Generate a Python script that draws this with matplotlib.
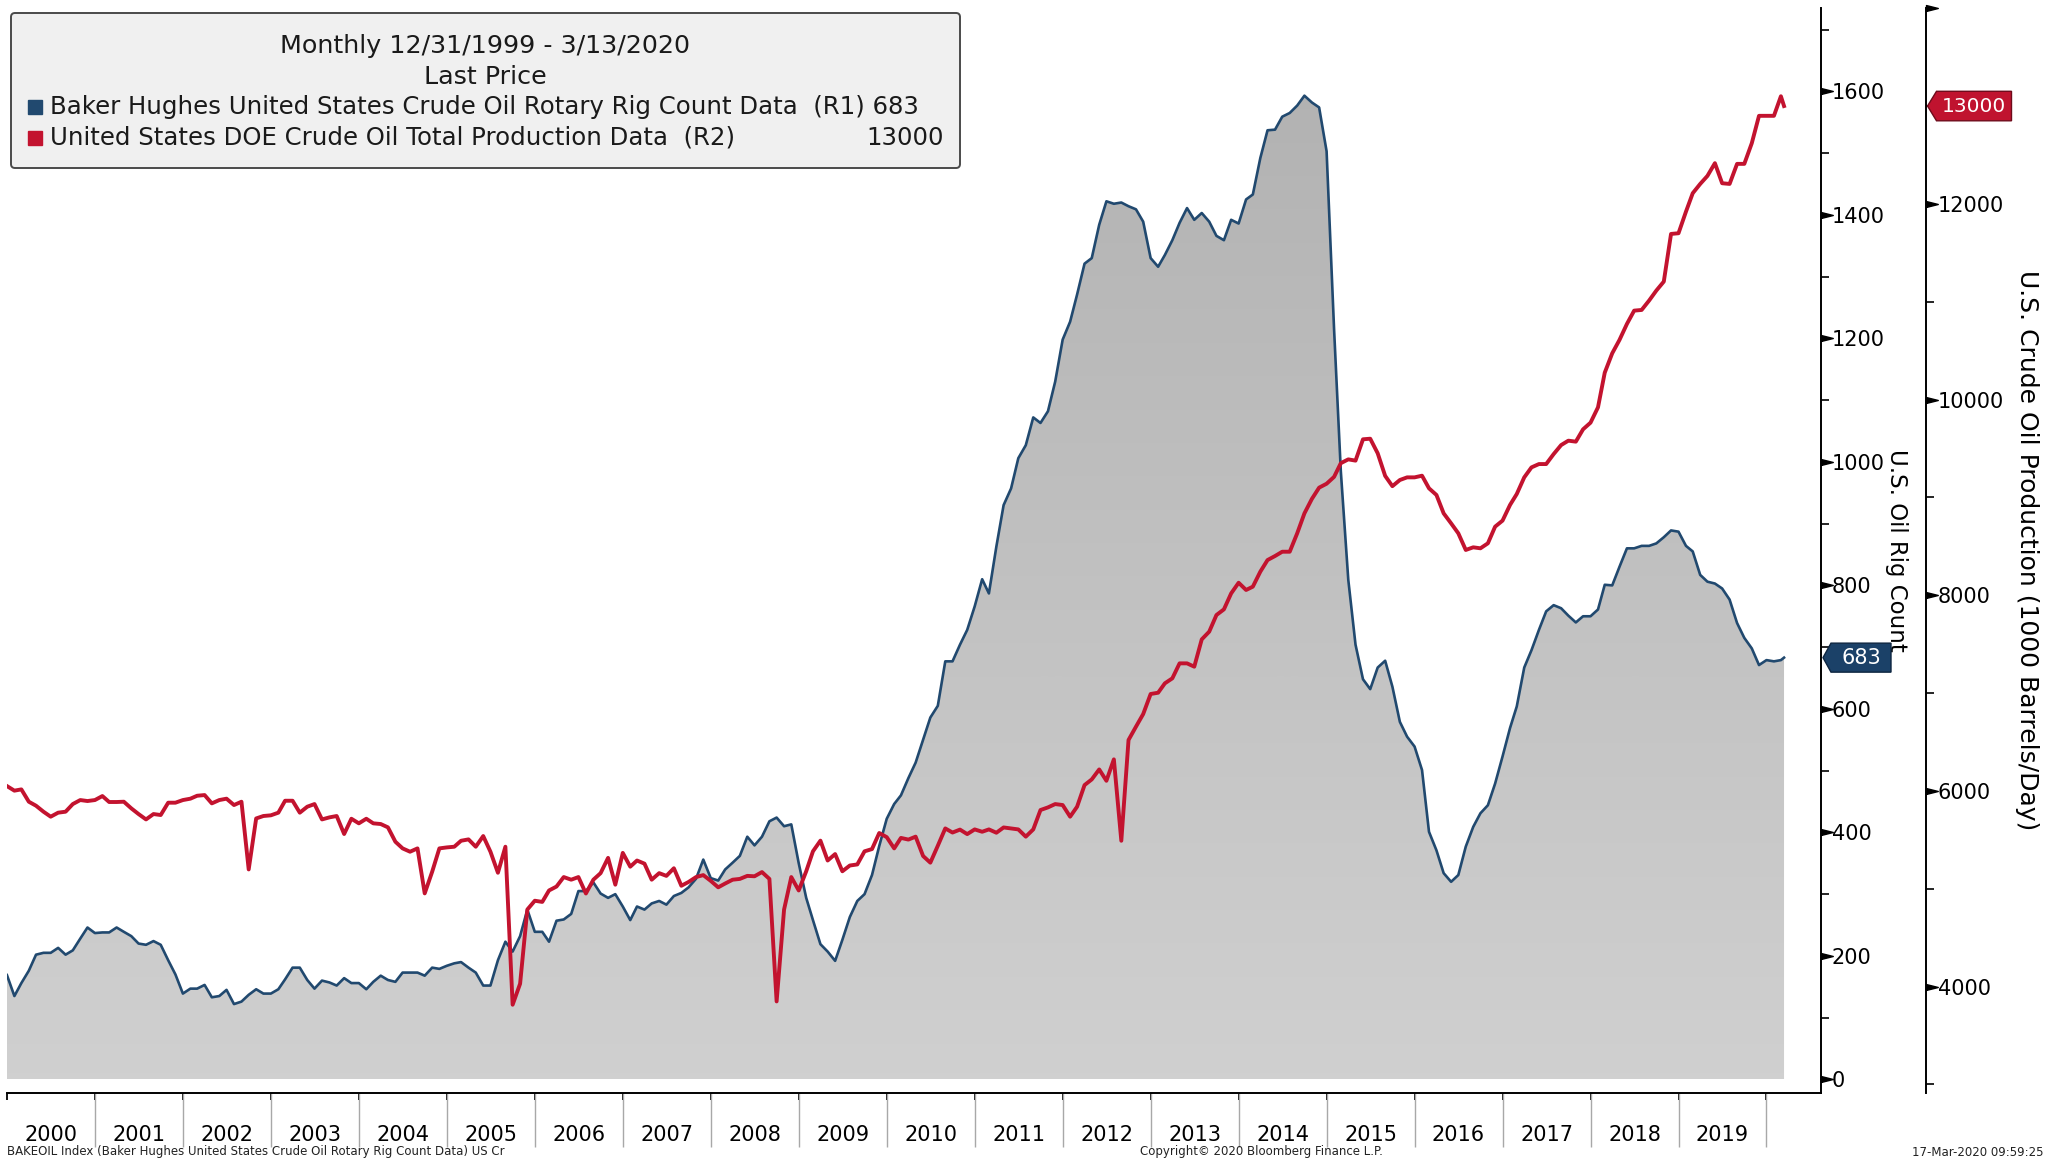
import numpy as np
import pandas as pd
import matplotlib
matplotlib.use('Agg')
import matplotlib.pyplot as plt
import matplotlib.transforms as mtransforms
from matplotlib.colors import LinearSegmentedColormap
from matplotlib.patches import Polygon, FancyBboxPatch
from matplotlib.lines import Line2D
from matplotlib.ticker import MultipleLocator, FixedLocator, NullFormatter

plt.rcParams['font.family'] = 'DejaVu Sans'

# Monthly values, Dec 1999 .. Feb 2020 plus last print 3/13/2020
rig_count = [
    169,
    135, 156, 176, 202, 205, 205, 213, 202, 209, 228, 246, 237,   # 2000
    238, 238, 246, 239, 232, 220, 218, 224, 218, 193, 170, 139,   # 2001
    147, 147, 153, 133, 135, 145, 122, 126, 137, 146, 139, 139,   # 2002
    146, 162, 181, 181, 161, 147, 160, 157, 152, 164, 156, 156,   # 2003
    146, 158, 168, 161, 158, 173, 173, 173, 168, 181, 179, 184,   # 2004
    188, 190, 181, 173, 152, 152, 193, 223, 207, 232, 275, 239,   # 2005
    239, 223, 257, 259, 268, 305, 305, 319, 301, 294, 300, 280,   # 2006
    258, 280, 275, 285, 289, 283, 297, 302, 311, 325, 356, 326,   # 2007
    322, 340, 351, 362, 393, 379, 393, 418, 424, 410, 413, 350,   # 2008
    294, 258, 219, 207, 192, 226, 263, 289, 300, 331, 378, 422,   # 2009
    446, 460, 488, 513, 550, 586, 605, 677, 677, 704, 728, 766,   # 2010
    810, 787, 863, 930, 957, 1006, 1027, 1072, 1063, 1082, 1130, 1198,   # 2011
    1227, 1271, 1321, 1330, 1384, 1422, 1418, 1420, 1414, 1409, 1389, 1330,  # 2012
    1316, 1335, 1359, 1387, 1411, 1392, 1403, 1389, 1366, 1359, 1392, 1386,  # 2013
    1425, 1433, 1492, 1537, 1538, 1559, 1565, 1577, 1593, 1582, 1574, 1503,  # 2014
    1215, 985, 809, 704, 648, 632, 667, 678, 636, 579, 555, 539,   # 2015
    501, 401, 371, 334, 320, 331, 377, 409, 431, 444, 479, 523,    # 2016
    569, 604, 667, 695, 728, 758, 768, 763, 751, 740, 750, 750,    # 2017
    761, 801, 800, 830, 860, 860, 864, 864, 868, 878, 889, 887,    # 2018
    864, 855, 817, 806, 803, 795, 777, 739, 715, 698, 671, 679,    # 2019
    677, 679, 683,                                                 # 2020
]

oil_production = [
    6050,
    6003, 6016, 5890, 5849, 5788, 5737, 5778, 5788, 5866, 5907, 5897, 5907,   # 2000
    5948, 5887, 5887, 5890, 5822, 5764, 5709, 5764, 5754, 5880, 5880, 5907,   # 2001
    5921, 5951, 5958, 5873, 5907, 5921, 5856, 5890, 5198, 5719, 5744, 5751,   # 2002
    5778, 5900, 5900, 5778, 5839, 5866, 5709, 5730, 5744, 5560, 5716, 5669,   # 2003
    5716, 5669, 5662, 5628, 5481, 5413, 5379, 5413, 4953, 5174, 5413, 5423,   # 2004
    5430, 5491, 5505, 5430, 5539, 5379, 5164, 5430, 3815, 4030, 4788, 4878,   # 2005
    4866, 4983, 5023, 5120, 5093, 5120, 4952, 5093, 5160, 5316, 5042, 5367,   # 2006
    5226, 5289, 5257, 5093, 5160, 5132, 5210, 5031, 5070, 5120, 5140, 5081,   # 2007
    5015, 5054, 5093, 5101, 5132, 5128, 5171, 5101, 3849, 4788, 5120, 4983,   # 2008
    5179, 5383, 5492, 5289, 5355, 5179, 5238, 5249, 5383, 5406, 5570, 5528,   # 2009
    5413, 5520, 5503, 5533, 5335, 5267, 5440, 5617, 5575, 5605, 5559, 5607,   # 2010
    5583, 5607, 5573, 5627, 5617, 5607, 5533, 5607, 5805, 5832, 5866, 5856,   # 2011
    5737, 5839, 6060, 6118, 6220, 6104, 6323, 5491, 6521, 6657, 6786, 6991,   # 2012
    7004, 7100, 7151, 7304, 7304, 7270, 7549, 7628, 7798, 7856, 8019, 8128,   # 2013
    8054, 8088, 8241, 8360, 8401, 8445, 8445, 8633, 8837, 8985, 9100, 9140,   # 2014
    9210, 9350, 9389, 9376, 9594, 9600, 9451, 9220, 9115, 9178, 9205, 9205,   # 2015
    9222, 9093, 9025, 8837, 8735, 8633, 8463, 8490, 8480, 8531, 8701, 8763,   # 2016
    8923, 9035, 9205, 9307, 9341, 9341, 9443, 9535, 9580, 9570, 9696, 9764,   # 2017
    9921, 10275, 10473, 10609, 10773, 10909, 10916, 11012, 11114, 11206, 11693, 11700,  # 2018
    11921, 12109, 12204, 12286, 12416, 12211, 12204, 12409, 12409, 12620, 12900, 12900,  # 2019
    12900, 13100, 13000,                                                    # 2020
]

years = list(range(2000, 2021))
year_labels = [str(y) for y in range(2000, 2020)]
rig_ticks = list(range(0, 1601, 200))
prod_ticks = list(range(4000, 12001, 2000))

blue = '#21496f'
red = '#c3132f'

# month-end dates -> decimal years
try:
    dates = pd.date_range('1999-12-31', periods=243, freq='ME')
except ValueError:
    dates = pd.date_range('1999-12-31', periods=243, freq='M')
dates = dates.append(pd.DatetimeIndex(['2020-03-13']))
t = np.asarray(dates.year + dates.dayofyear / np.where(dates.is_leap_year, 366, 365), dtype=float)
rig = np.array(rig_count, dtype=float)
prod = np.array(oil_production, dtype=float)

W, H = 2049, 1159
fig = plt.figure(figsize=(W / 100, H / 100), dpi=100)
ax = fig.add_axes([6.5 / W, 66 / H, (1820.5 - 6.5) / W, (1093 - 8) / H])

# grey area under the rig count, with a light vertical gradient
poly = ax.fill_between(t, rig, 0, facecolor='none', edgecolor='none')
cmap = LinearSegmentedColormap.from_list('g', ['#d0d0d0', '#b0b0b0'])
img = ax.imshow(np.linspace(0, 1, 256).reshape(-1, 1), extent=[t[0], t[-1], 0, 1735],
                origin='lower', aspect='auto', cmap=cmap, zorder=1, interpolation='bilinear')
img.set_clip_path(poly.get_paths()[0], ax.transData)
ax.plot(t, rig, color=blue, lw=1.9, zorder=3)

ax.set_xlim(1999.995, 2020.614)
ax.set_ylim(-22, 1735)

ax2 = ax.twinx()
ax2.plot(t, prod, color=red, lw=2.8, zorder=3)
ax2.set_ylim(2913, 14002)

# spines
for s in ['top', 'left']:
    ax.spines[s].set_visible(False)
ax.spines['bottom'].set_linewidth(1.4)
ax.spines['right'].set_linewidth(1.4)
for s in ['top', 'left', 'bottom']:
    ax2.spines[s].set_visible(False)
ax2.spines['right'].set_position(('outward', 76.3))
ax2.spines['right'].set_linewidth(1.4)

# y ticks
ax.yaxis.tick_right()
ax.set_yticks(rig_ticks)
ax.yaxis.set_minor_locator(MultipleLocator(100))
ax.tick_params(axis='y', which='major', length=0, pad=8, labelsize=15)
ax.tick_params(axis='y', which='minor', length=6, width=1.2)
ax2.set_yticks(prod_ticks)
ax2.yaxis.set_minor_locator(MultipleLocator(1000))
ax2.tick_params(axis='y', which='major', length=0, pad=8, labelsize=15)
ax2.tick_params(axis='y', which='minor', length=6, width=1.2)

tri = [(0, -0.25), (1, 0), (0, 0.25), (0, -0.25)]
ax.plot(np.ones(len(rig_ticks)), rig_ticks, ls='none', marker=tri, ms=17, color='black',
        transform=ax.get_yaxis_transform(), clip_on=False)
shift = mtransforms.ScaledTranslation(76.3 / 72, 0, fig.dpi_scale_trans)
ax2.plot(np.ones(len(prod_ticks) + 1), prod_ticks + [14000], ls='none', marker=tri, ms=17,
         color='black', transform=ax2.get_yaxis_transform() + shift, clip_on=False)

# x axis: year boundaries + centred labels
ax.xaxis.set_major_locator(FixedLocator(years))
ax.xaxis.set_major_formatter(NullFormatter())
ax.xaxis.set_minor_locator(FixedLocator([y + 0.5 for y in range(2000, 2020)]))
ax.set_xticklabels(year_labels, minor=True)
ax.tick_params(axis='x', which='major', length=5, width=1.3)
ax.tick_params(axis='x', which='minor', length=0, pad=23, labelsize=15)
ax.vlines(years[1:], -0.05, 0, transform=ax.get_xaxis_transform(), colors='#a8a8a8',
          lw=1, clip_on=False)

# axis titles
ax.set_ylabel('U.S. Oil Rig Count', rotation=270, fontsize=16.5, va='center')
ax.yaxis.set_label_position('right')
ax.yaxis.set_label_coords((1908 - 6.5) / 1814, 0.5)
ax2.set_ylabel('U.S. Crude Oil Production (1000 Barrels/Day)', rotation=270, fontsize=18,
               va='center')
ax2.yaxis.set_label_coords((2027 - 6.5) / 1814, 0.5)

# last-value tags
def tag(x0, y0, text, fc, ec, tw, w, h, fs):
    verts = [(0, 0), (tw, h / 2), (tw + w, h / 2), (tw + w, -h / 2), (tw, -h / 2)]
    tr = mtransforms.Affine2D().translate(x0, y0)
    fig.add_artist(Polygon(verts, closed=True, fc=fc, ec=ec, lw=1, transform=tr))
    fig.text(x0 + tw + w / 2, y0, text, color='white', fontsize=fs, ha='center', va='center',
             transform=mtransforms.IdentityTransform())

px, py = ax.get_yaxis_transform().transform((1, rig[-1]))
tag(px + 2.5, py, '683', '#1b4168', '#0d2540', 8, 60, 29, 15)
px, py = ax2.get_yaxis_transform().transform((1, prod[-1]))
tag(px + 106 + 1, py, '13000', '#c0132f', '#6e0b1b', 9, 75, 29.5, 14.5)

# legend box
fig.add_artist(FancyBboxPatch((11, H - 168), 949, 155, boxstyle='round,pad=0,rounding_size=4',
                              transform=mtransforms.IdentityTransform(),
                              fc='#f0f0f0', ec='#4a4a4a', lw=1.4))
tc = '#1a1a1a'
fig.text(485 / W, 1 - 46 / H, 'Monthly 12/31/1999 - 3/13/2020', ha='center', va='center',
         fontsize=18.3, color=tc)
fig.text(485 / W, 1 - 77 / H, 'Last Price', ha='center', va='center', fontsize=18.3, color=tc)
fig.add_artist(Line2D([35 / W], [1 - 107 / H], marker='s', ms=10, color=blue,
                      transform=fig.transFigure))
fig.add_artist(Line2D([35 / W], [1 - 138 / H], marker='s', ms=10, color=red,
                      transform=fig.transFigure))
fig.text(50 / W, 1 - 107 / H, 'Baker Hughes United States Crude Oil Rotary Rig Count Data  (R1) 683',
         ha='left', va='center', fontsize=17.6, color=tc)
fig.text(50 / W, 1 - 138 / H, 'United States DOE Crude Oil Total Production Data  (R2)',
         ha='left', va='center', fontsize=17.6, color=tc)
fig.text(944 / W, 1 - 138 / H, '13000', ha='right', va='center', fontsize=17.6, color=tc)

# footer line along the bottom edge
fy = 3.5 / H
fig.text(7 / W, fy, 'BAKEOIL Index (Baker Hughes United States Crude Oil Rotary Rig Count Data) US Cr',
         fontsize=8.5, va='baseline', color='#222')
fig.text(1261 / W, fy, 'Copyright\u00a9 2020 Bloomberg Finance L.P.', fontsize=8.5, va='baseline',
         ha='center', color='#222')
fig.text(2044 / W, fy, '17-Mar-2020 09:59:25', fontsize=8.5, va='baseline', ha='right',
         color='#222')

fig.savefig('out.png', dpi=100)
